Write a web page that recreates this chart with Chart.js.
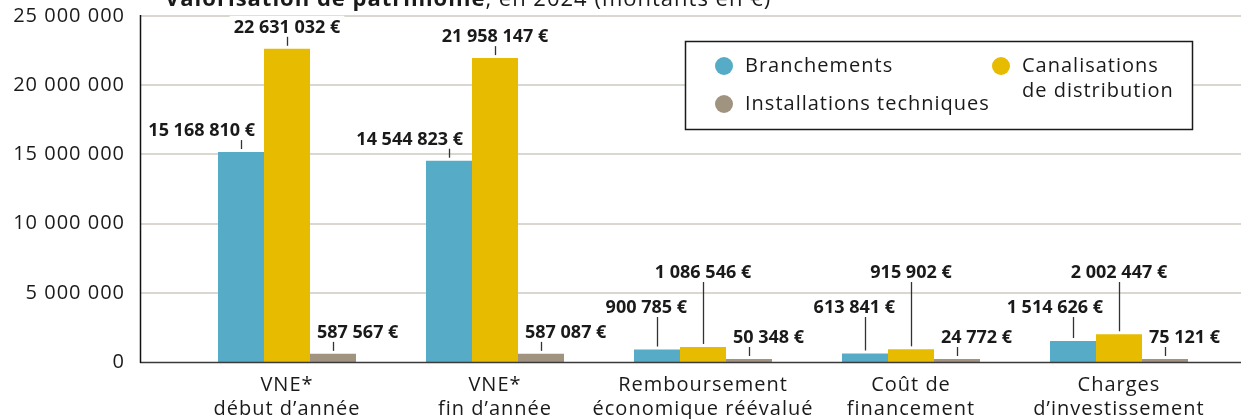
<!DOCTYPE html>
<html lang="fr">
<head>
<meta charset="utf-8">
<script src="https://cdn.jsdelivr.net/npm/chart.js@4.4.1/dist/chart.umd.min.js"></script>
<style>
    html, body { margin: 0; padding: 0; background: #fff; }
    canvas { display: block; }
</style>
</head>
<body>
<canvas id="chart" width="1241" height="419"></canvas>
<script>
// données du graphique (montants en €)
const categories = [
    ['VNE*', 'début d’année'],
    ['VNE*', 'fin d’année'],
    ['Remboursement', 'économique réévalué'],
    ['Coût de', 'financement'],
    ['Charges', 'd’investissement']
];
const seriesNames = ['Branchements', 'Canalisations de distribution', 'Installations techniques'];
const branchements = [15168810, 14544823, 900785, 613841, 1514626];
const canalisations = [22631032, 21958147, 1086546, 915902, 2002447];
const installations = [587567, 587087, 50348, 24772, 75121];
const yTicks = [0, 5000000, 10000000, 15000000, 20000000, 25000000];

const titleBold = 'Valorisation de patrimoine';
const titleRest = ', en 2024 (montants en €)';

// couleurs
const colors = ['#56abc6', '#e6bb00', '#a09481'];

// 25000000 -> "25 000 000"
function spaced(v) {
    return String(v).replace(/\B(?=(\d{3})+(?!\d))/g, ' ');
}

// position d'une étiquette de valeur (labelLift = hauteur mini au-dessus de l'axe)
function labelBox(chart, ds, bar, i, ctx) {
    const bottom = chart.chartArea.bottom;
    const text = spaced(ds.data[i]) + ' €';
    const w = ctx.measureText(text).width;
    const lifted = bar.y - 22 > bottom - ds.labelLift;
    const cy = Math.min(bar.y - 22, bottom - ds.labelLift);
    let left;
    if (ds.labelSide === 'left') left = bar.x + (lifted ? 30 : 14) - w;
    else if (ds.labelSide === 'right') left = bar.x - 16;
    else left = bar.x - w / 2;
    return { text, left, cy, w };
}

function eachLabel(chart, cb) {
    chart.data.datasets.forEach((ds, di) => {
        chart.getDatasetMeta(di).data.forEach((bar, i) => {
            cb(ds, bar, labelBox(chart, ds, bar, i, chart.ctx));
        });
    });
}

const LABEL_FONT = 'bold 18px "Open Sans"';

const decor = {
    id: 'decor',
    beforeDraw(chart) {
        chart.ctx.letterSpacing = '1px';
    },
    beforeDatasetsDraw(chart) {
        const { ctx, chartArea, scales: { y } } = chart;
        const axisX = chartArea.left - 43;
        ctx.save();
        // lignes de grille sur toute la largeur
        ctx.strokeStyle = '#dad7d1';
        ctx.lineWidth = 2;
        y.ticks.forEach(t => {
            if (t.value === 0) return;
            const py = Math.round(y.getPixelForValue(t.value));
            ctx.beginPath();
            ctx.moveTo(axisX, py);
            ctx.lineTo(chart.width, py);
            ctx.stroke();
        });
        // fond blanc derrière les étiquettes
        ctx.letterSpacing = '0px';
        ctx.font = LABEL_FONT;
        ctx.fillStyle = '#fff';
        eachLabel(chart, (ds, bar, b) => {
            ctx.fillRect(b.left - 4, b.cy - 11, b.w + 8, 22);
        });
        ctx.restore();
    },
    afterDatasetsDraw(chart) {
        const { ctx, chartArea } = chart;
        const axisX = chartArea.left - 43;
        ctx.save();
        // axe horizontal et axe vertical
        ctx.strokeStyle = '#3a3a3a';
        ctx.lineWidth = 1.5;
        ctx.beginPath();
        ctx.moveTo(axisX, chartArea.bottom + 0.5);
        ctx.lineTo(chart.width, chartArea.bottom + 0.5);
        ctx.stroke();
        ctx.strokeStyle = '#111';
        ctx.beginPath();
        ctx.moveTo(axisX + 0.5, chartArea.top - 1);
        ctx.lineTo(axisX + 0.5, chartArea.bottom + 1);
        ctx.stroke();

        // étiquettes + traits de rappel
        ctx.letterSpacing = '0px';
        ctx.font = LABEL_FONT;
        ctx.textBaseline = 'middle';
        ctx.textAlign = 'left';
        eachLabel(chart, (ds, bar, b) => {
            ctx.fillStyle = '#1a1a1a';
            ctx.fillText(b.text, b.left, b.cy + 1);
            const lx = Math.round(bar.x) + 0.5;
            ctx.strokeStyle = '#333';
            ctx.lineWidth = 1.3;
            ctx.beginPath();
            ctx.moveTo(lx, b.cy + 10);
            ctx.lineTo(lx, bar.y - 3);
            ctx.stroke();
        });
        ctx.restore();
    },
    afterDraw(chart) {
        const ctx = chart.ctx;
        ctx.save();
        // titre (coupé en haut)
        ctx.letterSpacing = '1px';
        ctx.textBaseline = 'alphabetic';
        ctx.textAlign = 'left';
        ctx.fillStyle = '#1a1a1a';
        ctx.font = 'bold 22px "Open Sans"';
        ctx.fillText(titleBold, 165, 6);
        const wb = ctx.measureText(titleBold).width;
        ctx.font = '22px "Open Sans"';
        ctx.fillText(titleRest, 165 + wb, 6);

        // légende
        const box = { x: 685.5, y: 41.5, w: 507, h: 88 };
        ctx.fillStyle = '#fff';
        ctx.fillRect(box.x, box.y, box.w, box.h);
        ctx.strokeStyle = '#1a1a1a';
        ctx.lineWidth = 1.5;
        ctx.strokeRect(box.x, box.y, box.w, box.h);
        // [x pastille, y, largeur max du texte]
        const spots = [[724, 66, 250], [1001, 66, 160], [724, 104, 250]];
        ctx.font = '20px "Open Sans"';
        ctx.textBaseline = 'middle';
        chart.data.datasets.forEach((ds, i) => {
            const [cx, cy, maxW] = spots[i];
            ctx.fillStyle = ds.backgroundColor;
            ctx.beginPath();
            ctx.arc(cx, cy, 9, 0, Math.PI * 2);
            ctx.fill();
            ctx.fillStyle = '#1a1a1a';
            const lines = [];
            let cur = '';
            ds.label.split(' ').forEach(wd => {
                const test = cur ? cur + ' ' + wd : wd;
                if (cur && ctx.measureText(test).width > maxW) {
                    lines.push(cur);
                    cur = wd;
                } else {
                    cur = test;
                }
            });
            lines.push(cur);
            lines.forEach((ln, k) => ctx.fillText(ln, cx + 21, cy + k * 25));
        });
        ctx.restore();
    }
};

const ctx = document.getElementById('chart').getContext('2d');
new Chart(ctx, {
    type: 'bar',
    data: {
        labels: categories,
        datasets: [
            { label: seriesNames[0], data: branchements, backgroundColor: colors[0], labelLift: 55, labelSide: 'left' },
            { label: seriesNames[1], data: canalisations, backgroundColor: colors[1], labelLift: 90, labelSide: 'center' },
            { label: seriesNames[2], data: installations, backgroundColor: colors[2], labelLift: 25, labelSide: 'right', minBarLength: 3 }
        ]
    },
    options: {
        responsive: false,
        animation: false,
        events: [],
        categoryPercentage: 0.6635,
        barPercentage: 1,
        layout: { padding: { top: 16, right: 18, left: 0, bottom: 0 } },
        plugins: {
            legend: { display: false },
            tooltip: { enabled: false }
        },
        scales: {
            x: {
                grid: { display: false, drawTicks: false },
                border: { display: false },
                ticks: {
                    autoSkip: false,
                    maxRotation: 0,
                    padding: 11,
                    color: '#1a1a1a',
                    font: { family: 'Open Sans', size: 20, lineHeight: '24px' }
                },
                afterFit: scale => { scale.height = 57; }
            },
            y: {
                min: 0,
                max: 25000000,
                // tickLength sert d'écart entre les libellés et la zone du graphique
                grid: { display: false, drawTicks: true, tickLength: 58 },
                border: { display: false },
                afterBuildTicks: scale => {
                    scale.ticks = yTicks.map(v => ({ value: v }));
                },
                ticks: {
                    padding: 0,
                    color: '#1a1a1a',
                    font: { family: 'Open Sans', size: 20 },
                    callback: v => spaced(v)
                },
                afterFit: scale => { scale.width = 183; }
            }
        }
    },
    plugins: [decor]
});
</script>
</body>
</html>
